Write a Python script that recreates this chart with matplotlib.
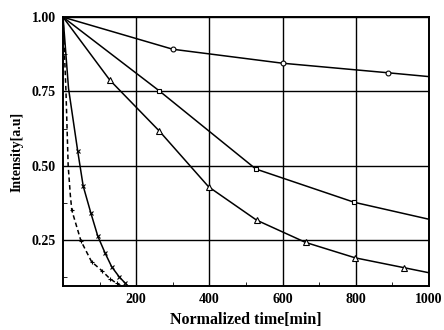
import matplotlib
matplotlib.use("Agg")
import matplotlib.pyplot as plt
from matplotlib.ticker import MultipleLocator, FixedLocator

# Data
circle_x = [0, 300, 600, 887, 1000]
circle_y = [1.00, 0.892, 0.845, 0.813, 0.800]

square_x = [0, 263, 527, 796, 1000]
square_y = [1.00, 0.752, 0.489, 0.377, 0.320]

tri_x = [0, 128, 263, 398, 529, 663, 799, 932, 1000]
tri_y = [1.00, 0.788, 0.617, 0.429, 0.317, 0.242, 0.190, 0.157, 0.140]

cross_x = [0, 15, 40, 55, 76, 95, 115, 133, 153, 169, 178]
cross_y = [1.00, 0.76, 0.55, 0.432, 0.341, 0.263, 0.206, 0.160, 0.127, 0.106, 0.095]

plus_x = [0, 8, 14, 20, 24, 49, 78, 106, 128, 147, 160]
plus_y = [1.00, 0.75, 0.50, 0.40, 0.35, 0.247, 0.177, 0.147, 0.120, 0.104, 0.095]

xticks = [200, 400, 600, 800, 1000]
xtick_labels = ["200", "400", "600", "800", "1000"]
yticks = [0.25, 0.50, 0.75, 1.00]
ytick_labels = ["0.25", "0.50", "0.75", "1.00"]

plt.rcParams['font.family'] = ['Liberation Serif', 'DejaVu Serif']

fig = plt.figure(figsize=(4.44, 3.30), dpi=100)
ax = fig.add_axes([0.142, 0.133, 0.824, 0.815])

lw = 1.1
ax.plot(circle_x, circle_y, color='black', lw=lw, marker='o', ms=3.5,
        mfc='white', mec='black', mew=0.8, markevery=[1, 2, 3])
ax.plot(square_x, square_y, color='black', lw=lw, marker='s', ms=3.5,
        mfc='white', mec='black', mew=0.8, markevery=[1, 2, 3])
ax.plot(tri_x, tri_y, color='black', lw=lw, marker='^', ms=4,
        mfc='white', mec='black', mew=0.8, markevery=list(range(1, 8)))
ax.plot(cross_x, cross_y, color='black', lw=lw, marker='x', ms=3.5,
        mew=0.8, markevery=list(range(2, 10)))
ax.plot(plus_x, plus_y, color='black', lw=lw, ls=(0, (3, 2)), marker='+', ms=3.5,
        mew=0.8, markevery=list(range(4, 10)))

ax.set_xlim(0, 1000)
ax.set_ylim(0.095, 1.0)

ax.xaxis.set_major_locator(FixedLocator(xticks))
ax.set_xticklabels(xtick_labels)
ax.xaxis.set_minor_locator(MultipleLocator(100))
ax.yaxis.set_major_locator(FixedLocator(yticks))
ax.set_yticklabels(ytick_labels)
ax.yaxis.set_minor_locator(MultipleLocator(0.125))

ax.grid(True, which='major', color='black', lw=1.0)
ax.tick_params(which='both', direction='in', labelsize=10)
ax.tick_params(which='major', length=0, pad=5)
ax.tick_params(which='minor', length=3)
for lbl in ax.get_xticklabels() + ax.get_yticklabels():
    lbl.set_fontweight('bold')

for s in ax.spines.values():
    s.set_linewidth(1.4)

ax.set_xlabel("Normalized time[min]", fontsize=11.5, fontweight='bold', labelpad=4)
ax.set_ylabel("Intensity[a.u]", fontsize=10, fontweight='bold', labelpad=6)

fig.savefig("out.png", dpi=100)
